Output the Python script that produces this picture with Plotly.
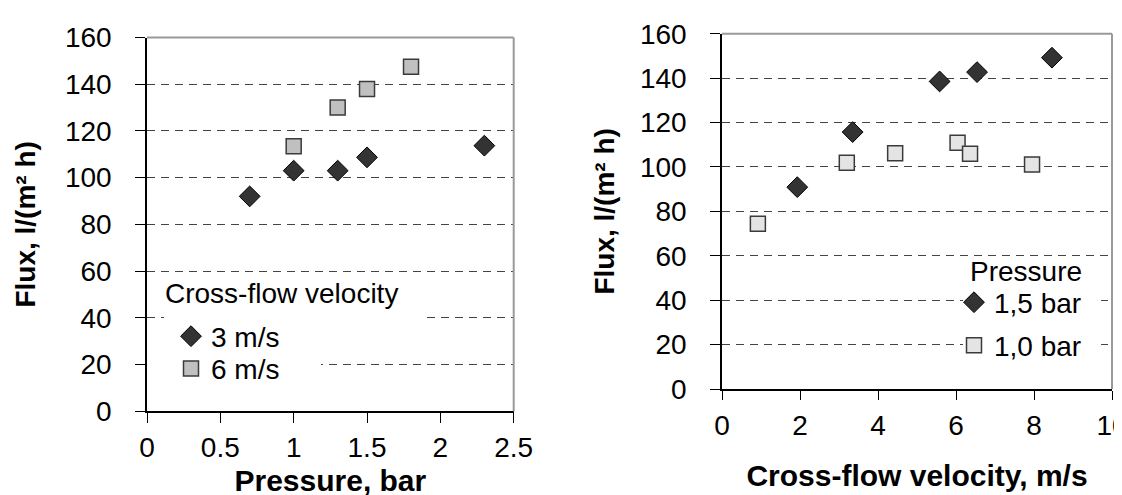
import plotly.graph_objects as go

# ---------------- data ----------------
# Left chart: flux vs trans-membrane pressure
pressure_3ms = [0.7, 1.0, 1.3, 1.5, 2.3]
flux_3ms = [92.0, 103.0, 103.0, 108.7, 113.7]
pressure_6ms = [1.0, 1.3, 1.5, 1.8]
flux_6ms = [113.4, 130.0, 138.0, 147.5]

# Right chart: flux vs cross-flow velocity
velocity_15bar = [1.93, 3.35, 5.58, 6.54, 8.46]
flux_15bar = [90.9, 115.7, 138.5, 142.7, 149.2]
velocity_10bar = [0.92, 3.2, 4.44, 6.04, 6.36, 7.95]
flux_10bar = [74.4, 101.9, 106.2, 110.9, 105.9, 101.1]

FONT = "Liberation Sans, Arial, sans-serif"
FS = 28
TFS = 30
YTFS = 28

fig = go.Figure()

diamond = dict(symbol="diamond", size=16, color="#333333", line=dict(color="#000000", width=1))
sq_left = dict(symbol="square", size=15, color="#c0c0c0", line=dict(color="#3a3a3a", width=1.5))
sq_right = dict(symbol="square", size=15, color="#e4e4e4", line=dict(color="#3a3a3a", width=1.5))

fig.add_trace(go.Scatter(x=pressure_3ms, y=flux_3ms, mode="markers", name="3 m/s",
                         marker=diamond, xaxis="x", yaxis="y", legend="legend"))
fig.add_trace(go.Scatter(x=pressure_6ms, y=flux_6ms, mode="markers", name="6 m/s",
                         marker=sq_left, xaxis="x", yaxis="y", legend="legend3"))
fig.add_trace(go.Scatter(x=velocity_15bar, y=flux_15bar, mode="markers", name="1,5 bar",
                         marker=diamond, xaxis="x2", yaxis="y2", legend="legend2"))
fig.add_trace(go.Scatter(x=velocity_10bar, y=flux_10bar, mode="markers", name="1,0 bar",
                         marker=sq_right, xaxis="x2", yaxis="y2", legend="legend4"))

W, H = 1122, 495

def px_x(p):
    return p / W

def px_y(p):
    return 1 - p / H

common_x = dict(showline=True, linecolor="#000000", linewidth=1.5, ticks="outside",
                tickcolor="#000000", tickwidth=1, showgrid=False, zeroline=False,
                tickfont=dict(family=FONT, size=FS, color="#000000"), automargin=False)
common_y = dict(showline=True, linecolor="#000000", linewidth=1.5, ticks="outside",
                tickcolor="#000000", tickwidth=1, ticklen=10, showgrid=True,
                gridcolor="#444444", gridwidth=1, griddash="8px,6px", zeroline=False,
                tickfont=dict(family=FONT, size=FS, color="#000000"), automargin=False,
                range=[0, 160], dtick=20, ticklabelstandoff=18)
title_font = dict(family=FONT, size=TFS, color="#000000", weight="bold")
ytitle_font = dict(family=FONT, size=YTFS, color="#000000", weight="bold")

def leg(xp, ytop):
    return dict(x=px_x(xp), y=px_y(ytop), xanchor="left", yanchor="top",
                bgcolor="rgba(0,0,0,0)", font=dict(family=FONT, size=FS))

fig.update_layout(
    template="none",
    width=W, height=H,
    margin=dict(l=0, r=0, t=0, b=0),
    paper_bgcolor="white", plot_bgcolor="white",
    font=dict(family=FONT, size=FS, color="#000000"),
    xaxis=dict(common_x, domain=[px_x(139), px_x(505.7)], range=[0, 2.5], dtick=0.5, ticklen=10,
               ticklabelstandoff=0,
               title=dict(text="Pressure, bar", font=title_font, standoff=8), anchor="y"),
    yaxis=dict(common_y, domain=[px_y(403.3), px_y(29.5)], anchor="x",
               title=dict(text="Flux, l/(m² h)", font=ytitle_font, standoff=21)),
    xaxis2=dict(common_x, domain=[px_x(714), px_x(1104)], range=[0, 10], dtick=2, ticklen=9,
                ticklabelstandoff=2,
                title=dict(text="Cross-flow velocity, m/s", font=title_font, standoff=25), anchor="y2"),
    yaxis2=dict(common_y, domain=[px_y(381), px_y(25.7)], anchor="x2",
                title=dict(text="Flux, l/(m² h)", font=ytitle_font, standoff=17)),
    legend=leg(163, 303.5),
    legend3=leg(163, 335.8),
    legend2=leg(946, 269.5),
    legend4=leg(946, 312.5),
    showlegend=True,
)

# legend titles
fig.add_annotation(text="Cross-flow velocity", xref="paper", yref="paper",
                   x=px_x(155), y=px_y(285), xanchor="left", yanchor="middle",
                   showarrow=False, font=dict(family=FONT, size=FS))
fig.add_annotation(text="Pressure", xref="paper", yref="paper",
                   x=px_x(960), y=px_y(263), xanchor="left", yanchor="middle",
                   showarrow=False, font=dict(family=FONT, size=FS))

# white legend backgrounds (above gridlines, below markers)
white = dict(type="rect", fillcolor="white", line=dict(width=0), layer="between")
fig.add_shape(white, xref="x", yref="y", x0=0.116, x1=1.89, y0=38.3, y1=56.3)
fig.add_shape(white, xref="x", yref="y", x0=0.0, x1=1.186, y0=4.8, y1=37.4)
fig.add_shape(white, xref="x2", yref="y2", x0=6.18, x1=9.72, y0=5.0, y1=58.0)

# grey plot-area border on top and right
border = dict(type="line", line=dict(color="#999999", width=2), layer="above")
for xr, yr in (("x", "y"), ("x2", "y2")):
    fig.add_shape(border, xref=f"{xr} domain", yref=f"{yr} domain", x0=0, x1=1, y0=1, y1=1)
    fig.add_shape(border, xref=f"{xr} domain", yref=f"{yr} domain", x0=1, x1=1, y0=0, y1=1)

fig.write_html("out.html")
